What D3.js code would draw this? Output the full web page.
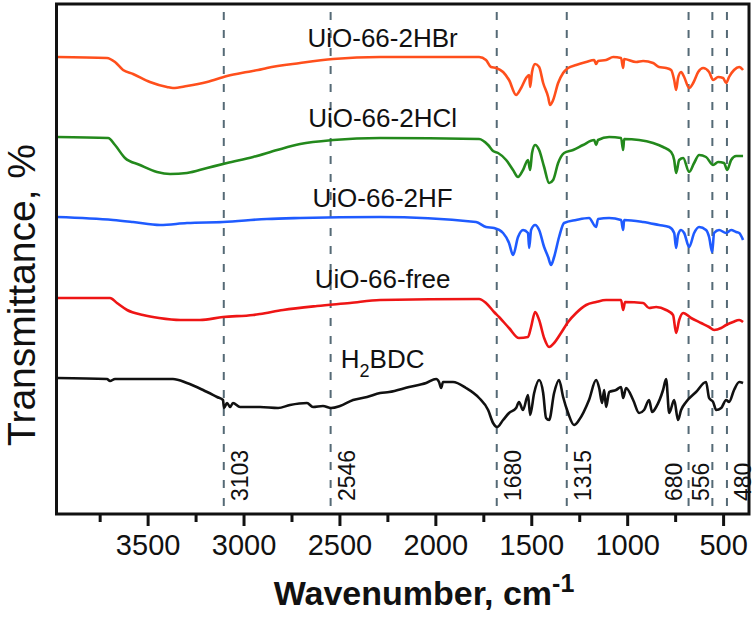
<!DOCTYPE html>
<html><head><meta charset="utf-8">
<script src="https://cdn.jsdelivr.net/npm/d3@7/dist/d3.min.js"></script>
<style>
html,body{margin:0;padding:0;background:#fff;}
svg{display:block;font-family:"Liberation Sans",Arial,Helvetica,sans-serif;}
</style></head>
<body>
<svg id="chart" width="756" height="620"></svg>
<script>
// ---------- DATA ----------
const seriesNames = ["UiO-66-2HBr","UiO-66-2HCl","UiO-66-2HF","UiO-66-free","H2BDC"];
const xTicksMajor = [3500,3000,2500,2000,1500,1000,500];
const xTicksMinor = [3750,3250,2750,2250,1750,1250,750];
const peakLines = [3103,2546,1680,1315,680,556,480];

// [wavenumber (cm-1), transmittance (a.u., offset)]
const hbr = [[3972,457],[3712,456],[3670,452],[3628,444],[3576,440],[3488,432],[3399,427],[3368,426],[3295,428],[3190,432],[3086,438],[2982,442],[2924,444],[2878,446],[2705,451],[2533,455],[2288,457],[1772,457],[1736,454],[1710,447],[1683,446],[1647,442],[1616,434],[1579,419],[1553,426],[1527,436],[1511,439],[1506,427],[1496,442],[1480,450],[1459,447],[1438,431],[1412,417],[1402,409],[1386,414],[1360,431],[1334,441],[1308,446],[1266,449],[1214,452],[1172,454],[1162,450],[1152,453],[1110,454],[1073,457],[1032,456],[1021,446],[1016,455],[954,452],[917,453],[865,451],[834,447],[797,446],[771,444],[755,434],[745,424],[735,436],[719,442],[703,437],[677,426],[656,431],[630,442],[604,446],[573,442],[552,434],[526,437],[500,436],[484,431],[469,437],[443,444],[416,447],[396,444]];
const hcl = [[3972,377],[3706,376],[3670,369],[3618,356],[3540,349],[3451,342],[3383,340],[3295,341],[3190,346],[3086,351],[2950,357],[2825,364],[2705,370],[2533,374],[2288,376],[1772,375],[1725,369],[1699,363],[1673,361],[1631,354],[1595,344],[1569,337],[1543,344],[1517,354],[1506,344],[1496,361],[1480,369],[1459,364],[1433,347],[1407,331],[1386,334],[1360,351],[1329,361],[1282,364],[1230,369],[1172,374],[1162,369],[1152,374],[1094,377],[1032,376],[1021,364],[1016,375],[938,374],[865,371],[813,367],[771,362],[755,354],[745,341],[729,354],[708,356],[677,342],[651,351],[625,359],[589,357],[552,349],[526,352],[495,351],[479,344],[458,354],[432,358],[396,358]];
const hf = [[3972,297],[3680,294],[3576,292],[3435,289],[3295,291],[3107,292],[2878,295],[2705,296],[2288,297],[1788,292],[1736,287],[1694,286],[1647,281],[1616,271],[1595,259],[1569,277],[1543,284],[1517,281],[1511,266],[1501,284],[1480,289],[1459,284],[1433,267],[1412,257],[1397,249],[1381,257],[1355,277],[1329,291],[1266,294],[1199,296],[1162,287],[1152,295],[1094,296],[1032,294],[1021,284],[1016,294],[917,292],[834,289],[781,287],[755,281],[745,266],[735,279],[719,284],[703,281],[677,267],[651,281],[625,287],[589,284],[573,277],[557,262],[547,281],[521,284],[484,281],[458,284],[432,282],[416,281],[396,274]];
const free = [[3972,216],[3696,216],[3660,211],[3607,204],[3524,199],[3440,196],[3330,194],[3227,194],[3107,197],[2950,199],[2914,200],[2794,204],[2617,208],[2445,211],[2288,214],[1772,215],[1736,211],[1694,202],[1668,197],[1616,186],[1564,176],[1517,177],[1501,187],[1480,202],[1459,194],[1433,176],[1407,167],[1381,171],[1345,181],[1308,192],[1266,201],[1214,209],[1162,212],[1110,214],[1032,214],[1021,204],[1011,212],[917,211],[886,206],[849,207],[797,204],[761,199],[745,181],[729,194],[708,201],[667,196],[615,191],[573,187],[547,184],[510,186],[484,189],[448,192],[416,194],[396,192]];
const h2bdc = [[3972,136],[3712,135],[3696,133],[3670,135],[3540,135],[3368,135],[3295,131],[3211,124],[3138,117],[3107,114],[3102,106],[3086,111],[3070,107],[3055,111],[3018,107],[2914,107],[2820,106],[2758,109],[2669,111],[2638,107],[2586,108],[2544,106],[2497,108],[2429,114],[2356,117],[2288,121],[2241,122],[2137,127],[2048,131],[1996,135],[1981,132],[1970,126],[1960,132],[1908,132],[1840,126],[1772,116],[1725,104],[1699,91],[1678,87],[1647,94],[1616,101],[1579,106],[1564,112],[1543,104],[1517,119],[1506,99],[1485,121],[1459,134],[1438,121],[1423,96],[1407,94],[1381,121],[1355,134],[1334,117],[1308,101],[1277,89],[1251,94],[1199,114],[1162,134],[1146,126],[1131,111],[1120,124],[1110,107],[1094,122],[1058,124],[1032,127],[1021,116],[1006,126],[969,114],[938,101],[912,104],[886,114],[870,102],[849,107],[813,124],[797,135],[781,101],[755,114],[735,94],[719,104],[693,112],[641,122],[589,132],[573,116],[552,112],[536,104],[510,106],[484,114],[469,112],[443,124],[416,132],[396,131]];
const seriesValues = [hbr, hcl, hf, free, h2bdc];

// ---------- STYLE / LAYOUT ----------
const colors = ["#ff4f1c","#23891c","#1f5bff","#ee1515","#111111"];
const m = {left:56.5, right:749, top:4, bottom:514};
const svg = d3.select("#chart");

const x = d3.scaleLinear().domain([3975, 365]).range([m.left, m.right]);
const y = d3.scaleLinear().domain([0, 510]).range([m.bottom, m.top]);

// dashed reference lines
const dashCol = "#556a76";
svg.append("g").selectAll("line").data(peakLines).join("line")
  .attr("x1", d=>x(d)).attr("x2", d=>x(d))
  .attr("y1", 12).attr("y2", m.bottom)
  .attr("stroke", dashCol).attr("stroke-width", 2)
  .attr("stroke-dasharray", "8,10");

// peak labels
const labelDx = d => d === 680 ? -7 : d === 556 ? -3 : 24;
svg.append("g").selectAll("text").data(peakLines).join("text")
  .attr("transform", d => `translate(${x(d) + labelDx(d)},501) rotate(-90)`)
  .attr("font-size", 23).attr("fill", "#111")
  .text(d => d);

// curves
const line = d3.line().x(d=>x(d[0])).y(d=>y(d[1])).curve(d3.curveMonotoneX);
svg.append("g").selectAll("path").data(seriesValues).join("path")
  .attr("d", d => line(d))
  .attr("fill", "none")
  .attr("stroke", (d,i)=>colors[i])
  .attr("stroke-width", 2.6)
  .attr("stroke-linejoin", "round");

// series labels
const labelWn = 2275;
const lg = svg.append("g").attr("font-size", 26).attr("fill", "#111");
seriesNames.forEach((name, i) => {
  const t = lg.append("text")
    .attr("x", x(labelWn))
    .attr("y", y(seriesValues[i][0][1]) - 10)
    .attr("text-anchor", "middle");
  if (name === "H2BDC") {
    t.append("tspan").text("H");
    t.append("tspan").attr("font-size", 18).attr("dy", 9).text("2");
    t.append("tspan").attr("dy", -9).text("BDC");
  } else {
    t.text(name);
  }
});

// x axis
const xAxis = d3.axisBottom(x).tickValues(xTicksMajor).tickSize(12).tickPadding(8).tickFormat(d3.format("d"));
const gx = svg.append("g").attr("transform", `translate(0,${m.bottom})`).call(xAxis);
gx.select(".domain").remove();
gx.selectAll(".tick line").attr("stroke", "#111").attr("stroke-width", 3);
gx.selectAll(".tick text").attr("font-size", 29).attr("fill", "#111")
  .attr("font-family", "'Liberation Sans',Arial,sans-serif");
const xMinor = d3.axisBottom(x).tickValues(xTicksMinor).tickSize(8).tickFormat("");
const gm = svg.append("g").attr("transform", `translate(0,${m.bottom})`).call(xMinor);
gm.select(".domain").remove();
gm.selectAll(".tick line").attr("stroke", "#111").attr("stroke-width", 3);

// frame
svg.append("rect")
  .attr("x", m.left).attr("y", m.top)
  .attr("width", m.right - m.left).attr("height", m.bottom - m.top)
  .attr("fill", "none").attr("stroke", "#111").attr("stroke-width", 3);

// axis titles
const xt = svg.append("text")
  .attr("x", 424).attr("y", 605)
  .attr("text-anchor", "middle")
  .attr("font-size", 34).attr("font-weight", "bold").attr("fill", "#111");
xt.append("tspan").text("Wavenumber, cm");
xt.append("tspan").attr("font-size", 25).attr("dy", -13).text("-1");

svg.append("text")
  .attr("transform", "translate(35,295) rotate(-90)")
  .attr("text-anchor", "middle")
  .attr("font-size", 39).attr("fill", "#111")
  .text("Transmittance, %");
</script>
</body></html>
